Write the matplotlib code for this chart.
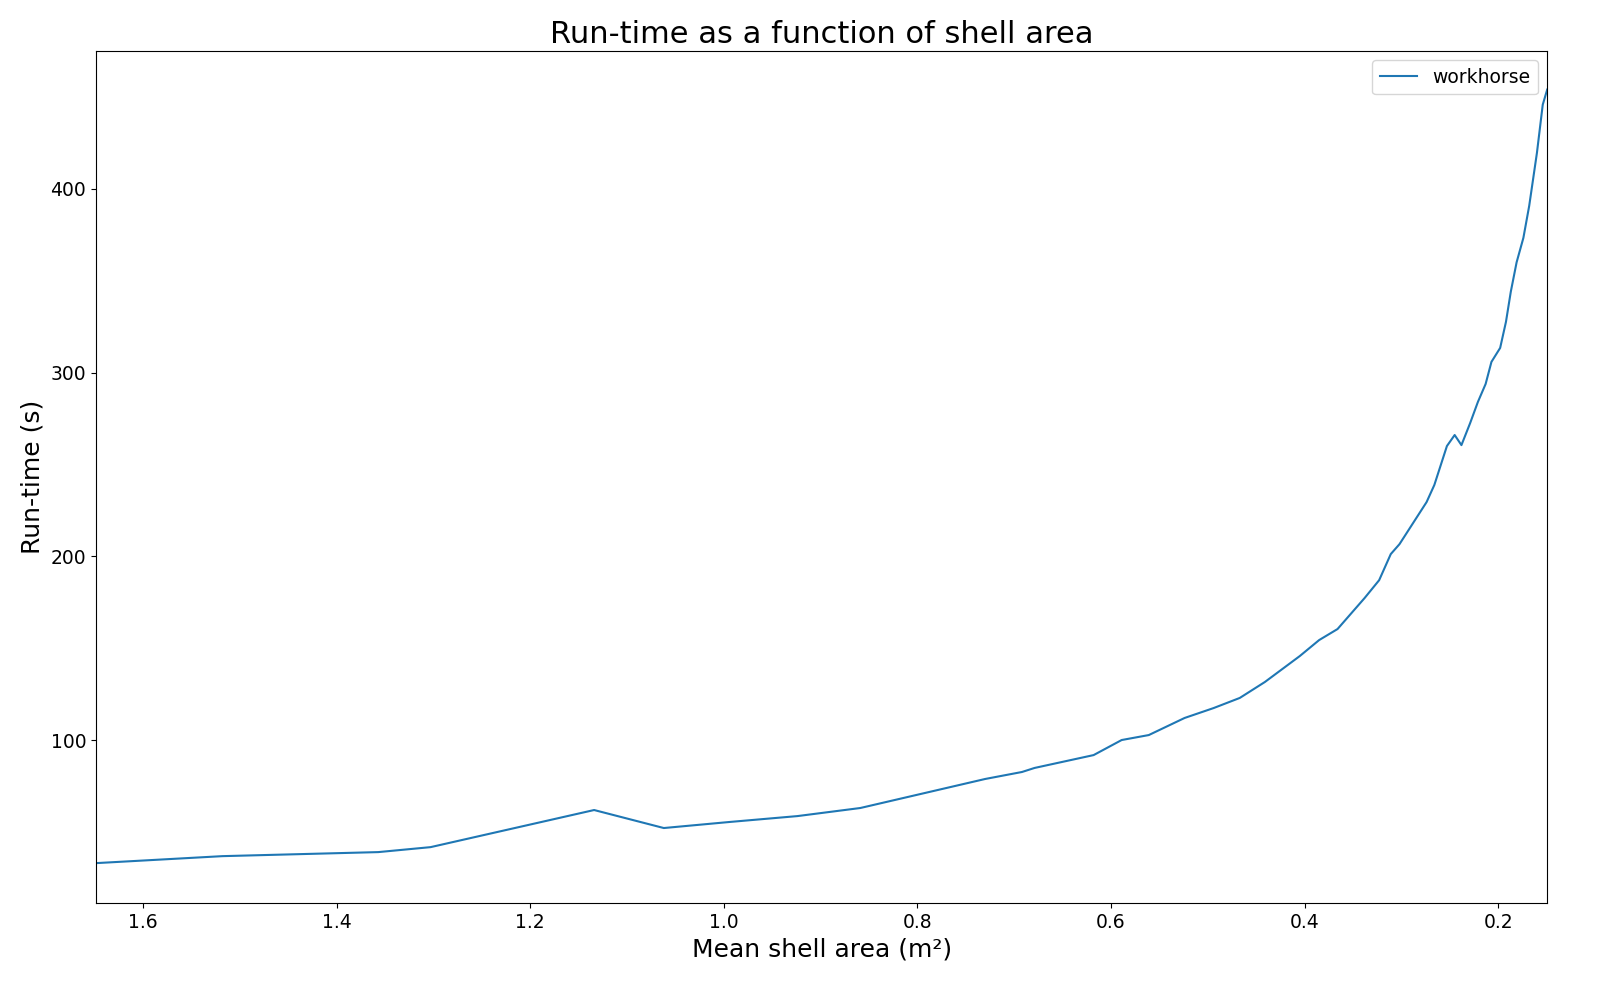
import matplotlib
matplotlib.use("Agg")
import matplotlib.pyplot as plt

# values
area = [1.6486, 1.518, 1.357, 1.303, 1.134, 1.062, 0.994, 0.924, 0.859, 0.730,
        0.692, 0.679, 0.618, 0.589, 0.561, 0.524, 0.494, 0.467, 0.441, 0.405,
        0.385, 0.366, 0.338, 0.323, 0.311, 0.302, 0.274, 0.266, 0.253, 0.245,
        0.238, 0.229, 0.221, 0.213, 0.207, 0.198, 0.192, 0.187, 0.181, 0.174,
        0.168, 0.160, 0.154, 0.1494]
runtime = [33.0, 36.8, 39.0, 41.7, 61.9, 52.1, 55.4, 58.6, 63.0, 78.8,
           82.6, 84.8, 91.8, 100.0, 102.7, 112.0, 117.4, 122.9, 131.6, 145.7,
           154.4, 160.4, 177.3, 187.0, 201.2, 206.6, 229.5, 238.8, 260.0, 266.0,
           260.5, 272.5, 284.0, 293.8, 305.8, 313.4, 327.6, 344.0, 360.0, 373.3,
           390.7, 419.6, 445.8, 454.0]

fig, ax = plt.subplots(figsize=(16, 10), dpi=100)
ax.plot(area, runtime, color="#1f77b4", linewidth=1.5, label="workhorse")
ax.set_xlim(1.6486, 0.1494)
ax.set_ylim(11.3, 475)
ax.set_title("Run-time as a function of shell area", fontsize=22)
ax.set_xlabel("Mean shell area (m²)", fontsize=18)
ax.set_ylabel("Run-time (s)", fontsize=18)
ax.tick_params(labelsize=13.5)
ax.set_yticks([100, 200, 300, 400])
ax.legend(fontsize=13.5, loc="upper right")
plt.subplots_adjust(left=0.06, right=0.967, top=0.949, bottom=0.097)
fig.savefig("out.png")
